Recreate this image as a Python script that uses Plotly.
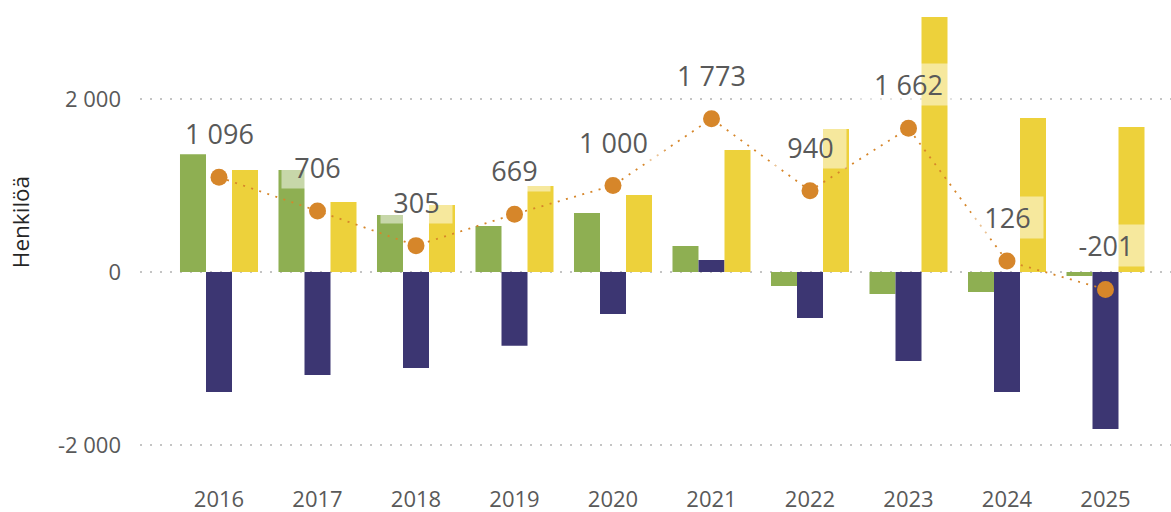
import plotly.graph_objects as go

years = ["2016", "2017", "2018", "2019", "2020", "2021", "2022", "2023", "2024", "2025"]
green_vals = [1364, 1179, 659, 532, 682, 301, -162, -254, -231, -46]
navy_vals = [-1387, -1191, -1110, -852, -486, 139, -532, -1029, -1387, -1815]
yellow_vals = [1179, 809, 775, 994, 890, 1410, 1653, 2948, 1780, 1676]
total_vals = [1096, 706, 305, 669, 1000, 1773, 940, 1662, 126, -201]

y_tick_vals = [-2000, 0, 2000]
y_tick_text = ["-2 000", "0", "2 000"]
y_title = "Henkilöä"

GREEN = "#8EAF52"
NAVY = "#3C3672"
YELLOW = "#EDD13B"
ORANGE = "#D6862A"
GRAY_TXT = "#595959"
FONT = "Open Sans"

fig = go.Figure()
fig.add_trace(go.Bar(x=years, y=green_vals, marker=dict(color=GREEN, line=dict(width=0)), hoverinfo="skip"))
fig.add_trace(go.Bar(x=years, y=navy_vals, marker=dict(color=NAVY, line=dict(width=0)), hoverinfo="skip"))
fig.add_trace(go.Bar(x=years, y=yellow_vals, marker=dict(color=YELLOW, line=dict(width=0)), hoverinfo="skip"))
fig.add_trace(go.Scatter(
    x=years, y=total_vals, mode="lines+markers",
    line=dict(color=ORANGE, width=1.8, dash="2px,6.5px"),
    marker=dict(color=ORANGE, size=17, line=dict(width=0)),
    hoverinfo="skip",
))

def fmt(v):
    return f"{v:,}".replace(",", " ")

for i, v in enumerate(total_vals):
    txt = fmt(v)
    fig.add_annotation(
        x=i, y=v, xref="x", yref="y", text=txt, showarrow=False,
        yshift=43.5, yanchor="middle", xanchor="center",
        font=dict(family=FONT, size=27, color=GRAY_TXT),
        bgcolor="rgba(255,255,255,0.5)", borderpad=2,
        width=len(txt) * 15 + 22,
    )

fig.add_annotation(
    x=-0.1164, y=0.541, xref="paper", yref="paper", text=y_title, showarrow=False,
    textangle=-90, xanchor="center", yanchor="middle",
    font=dict(family=FONT, size=22.5, color="#262626"),
)

fig.update_layout(
    width=1171, height=512, autosize=False,
    margin=dict(l=140, r=0, t=0, b=28),
    paper_bgcolor="white", plot_bgcolor="white",
    barmode="group", bargap=0.208, bargroupgap=0,
    showlegend=False,
    font=dict(family=FONT, color=GRAY_TXT),
    xaxis=dict(
        type="category", range=[-0.802, 9.665], showgrid=False, zeroline=False,
        showline=False, ticks="", tickfont=dict(size=22, color=GRAY_TXT, family=FONT),
        fixedrange=True,
    ),
    yaxis=dict(
        range=[-2451, 3145], tickvals=y_tick_vals, ticktext=y_tick_text,
        showgrid=True, gridcolor="#C4C4C4", gridwidth=1.6, griddash="2px,8px",
        zeroline=False, showline=False, ticks="",
        tickfont=dict(size=22, color=GRAY_TXT, family=FONT),
        ticklabelstandoff=18, fixedrange=True,
    ),
)

fig.write_html("out.html", config={"displayModeBar": False})

with open("out.html", "r", encoding="utf-8") as f:
    html = f.read()
html = html.replace("<head>", "<head><style>html,body{margin:0;padding:0;overflow:hidden;}</style>", 1)
with open("out.html", "w", encoding="utf-8") as f:
    f.write(html)
